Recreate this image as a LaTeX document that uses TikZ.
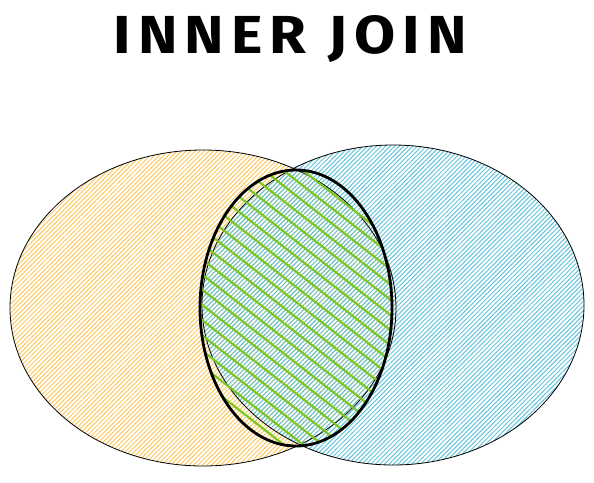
\documentclass[tikz,border=0pt]{standalone}
\usepackage{fontspec}
\usepackage{graphicx}
\setmainfont{Fira Sans}
\usetikzlibrary{patterns.meta}
\definecolor{leftorange}{HTML}{FBC95E}
\definecolor{rightblue}{HTML}{62C4DA}
\definecolor{joingreen}{HTML}{7CC623}
\tikzset{
  tablehatch/.style={pattern={Lines[angle=45,distance=3.2pt,line width=1pt]},pattern color=#1},
  joinhatch/.style={pattern={Lines[angle=-38,distance=12pt,line width=2.2pt]},pattern color=joingreen},
  tableedge/.style={draw=black,line width=0.8pt},
  joinedge/.style={draw=black,line width=2.8pt}
}
\begin{document}
\begin{tikzpicture}[x=1pt,y=-1pt]
        \useasboundingbox (0,0) rectangle (594,482);
        \coordinate (left) at (203,308);
        \coordinate (right) at (393,305);
        \coordinate (join) at (296,308);
        % the two tables
        \fill[tablehatch=leftorange] (left) ellipse [x radius=193, y radius=158];
        \fill[tablehatch=rightblue] (right) ellipse [x radius=191, y radius=160];
        \draw[tableedge] (left) ellipse [x radius=193, y radius=158];
        \draw[tableedge] (right) ellipse [x radius=191, y radius=160];
        % the matching rows
        \fill[joinhatch] (join) ellipse [x radius=96, y radius=138];
        \draw[joinedge] (join) ellipse [x radius=96, y radius=138];
        \node (title) at (290,39) {\resizebox{353pt}{38pt}{\bfseries\addfontfeatures{LetterSpace=12}INNER JOIN}};
\end{tikzpicture}
\end{document}
